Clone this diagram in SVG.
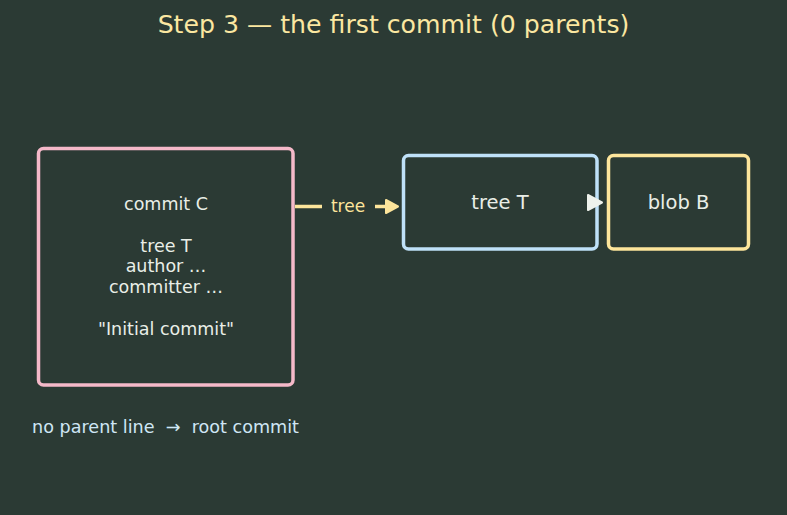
<svg xmlns="http://www.w3.org/2000/svg" width="787" height="515" viewBox="0 0 787 515">
<style>
text{font-family:"DejaVu Sans",sans-serif;white-space:pre;}
.box{fill:#2b3a34;stroke-width:3.5;}
.t{fill:#e9eee7;font-size:17.5px;text-anchor:middle;}
.n{fill:#e9eee7;font-size:19.5px;text-anchor:middle;}
</style>
<rect width="787" height="515" fill="#2b3a34"/>
<text x="393.5" y="33" font-size="25.2" fill="#fbe7a1" text-anchor="middle">Step 3 — the first commit (0 parents)</text>
<g id="commitC">
<rect class="box" x="38.5" y="148.5" width="254.5" height="236.5" rx="5" stroke="#f5b9c9"/>
<text class="t" x="166" y="210">commit C</text>
<text class="t" x="166" y="252">tree T</text>
<text class="t" x="166" y="272">author …</text>
<text class="t" x="166" y="293">committer …</text>
<text class="t" x="166" y="335">"Initial commit"</text>
</g>
<g id="treeT">
<rect class="box" x="403.5" y="155.5" width="193.5" height="93.5" rx="5" stroke="#bfe1f8"/>
<text class="n" x="500" y="209">tree T</text>
</g>
<g id="blobB">
<rect class="box" x="608.5" y="155.5" width="140" height="93.5" rx="5" stroke="#fde59b"/>
<text class="n" x="678.5" y="209">blob B</text>
</g>
<g id="connectors">
<line x1="295" y1="206.5" x2="322" y2="206.5" stroke="#fde59b" stroke-width="3.5"/>
<text x="348" y="212" font-size="17" fill="#fde59b" text-anchor="middle">tree</text>
<line x1="375" y1="206.5" x2="388" y2="206.5" stroke="#fde59b" stroke-width="3.5"/>
<polygon points="386,200 398,206.5 386,213" fill="#fde59b" stroke="#fde59b" stroke-width="2" stroke-linejoin="round"/>
<polygon points="588,195 602,202.5 588,210" fill="#eef2ec" stroke="#eef2ec" stroke-width="2" stroke-linejoin="round"/>
</g>
<text x="32" y="433" font-size="17.6" fill="#cfe6f5" xml:space="preserve">no parent line  →  root commit</text>
</svg>
